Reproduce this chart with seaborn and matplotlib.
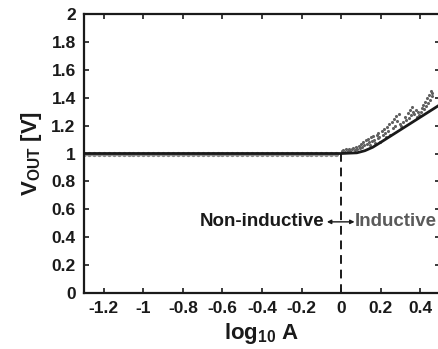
import matplotlib
matplotlib.use("Agg")
import matplotlib.pyplot as plt
import seaborn as sns
import pandas as pd

# ---- data ----
flat_x = [-1.300, -1.275, -1.250, -1.225, -1.200, -1.175, -1.150, -1.125, -1.100,
          -1.075, -1.050, -1.025, -1.000, -0.975, -0.950, -0.925, -0.900, -0.875,
          -0.850, -0.825, -0.800, -0.775, -0.750, -0.725, -0.700, -0.675, -0.650,
          -0.625, -0.600, -0.575, -0.550, -0.525, -0.500, -0.475, -0.450, -0.425,
          -0.400, -0.375, -0.350, -0.325, -0.300, -0.275, -0.250, -0.225, -0.200,
          -0.175, -0.150, -0.125, -0.100, -0.075, -0.050, -0.025]
flat_y = [1.0] * len(flat_x)

ind_x = [0.004, 0.012, 0.018, 0.026, 0.033, 0.041, 0.047, 0.055, 0.062, 0.068,
         0.074, 0.081, 0.088, 0.094, 0.101, 0.107, 0.113, 0.118, 0.124, 0.129,
         0.135, 0.141, 0.146, 0.152, 0.157, 0.163, 0.168, 0.173, 0.179, 0.184,
         0.189, 0.194, 0.199, 0.205, 0.211, 0.216, 0.222, 0.227, 0.233, 0.238,
         0.244, 0.249, 0.255, 0.261, 0.266, 0.272, 0.278, 0.284, 0.291, 0.297,
         0.305, 0.313, 0.321, 0.329, 0.336, 0.342, 0.348, 0.353, 0.359, 0.364,
         0.371, 0.377, 0.383, 0.389, 0.396, 0.403, 0.409, 0.415, 0.421, 0.426,
         0.431, 0.436, 0.441, 0.445, 0.449, 0.454, 0.458, 0.462]
ind_y = [1.015, 1.025, 1.010, 1.030, 1.020, 1.035, 1.015, 1.030, 1.040, 1.025,
         1.045, 1.030, 1.055, 1.040, 1.065, 1.050, 1.085, 1.060, 1.095, 1.070,
         1.105, 1.080, 1.060, 1.115, 1.090, 1.125, 1.100, 1.075, 1.135, 1.110,
         1.150, 1.120, 1.085, 1.160, 1.130, 1.175, 1.145, 1.115, 1.190, 1.160,
         1.210, 1.135, 1.225, 1.180, 1.250, 1.200, 1.270, 1.235, 1.285, 1.215,
         1.195, 1.225, 1.260, 1.240, 1.290, 1.255, 1.310, 1.275, 1.330, 1.300,
         1.285, 1.315, 1.260, 1.295, 1.275, 1.300, 1.325, 1.345, 1.320, 1.370,
         1.340, 1.395, 1.360, 1.420, 1.380, 1.450, 1.410, 1.435]

line_x = [-1.30, 0.00, 0.08, 0.12, 0.16, 0.20, 0.25, 0.30, 0.35, 0.40, 0.45, 0.50]
line_y = [1.00, 1.00, 1.005, 1.02, 1.045, 1.08, 1.125, 1.17, 1.215, 1.26, 1.305, 1.35]

xticks = [-1.2, -1.0, -0.8, -0.6, -0.4, -0.2, 0.0, 0.2, 0.4]
xtick_labels = ["-1.2", "-1", "-0.8", "-0.6", "-0.4", "-0.2", "0", "0.2", "0.4"]
yticks = [0.0, 0.2, 0.4, 0.6, 0.8, 1.0, 1.2, 1.4, 1.6, 1.8, 2.0]
ytick_labels = ["0", "0.2", "0.4", "0.6", "0.8", "1", "1.2", "1.4", "1.6", "1.8", "2"]

# ---- style ----
sns.set_theme(style="ticks")
plt.rcParams["font.family"] = ["Liberation Sans", "DejaVu Sans"]
plt.rcParams["font.weight"] = "bold"
plt.rcParams["mathtext.fontset"] = "custom"
plt.rcParams["mathtext.rm"] = "Liberation Sans:bold"
plt.rcParams["mathtext.bf"] = "Liberation Sans:bold"
plt.rcParams["mathtext.it"] = "Liberation Sans:bold"

fig = plt.figure(figsize=(4.38, 3.49), dpi=100)
ax = fig.add_axes([84 / 438, 1 - 293 / 349, (440 - 84) / 438, (293 - 14) / 349])

df_flat = pd.DataFrame({"x": flat_x, "y": flat_y})
df_ind = pd.DataFrame({"x": ind_x, "y": ind_y})
df_line = pd.DataFrame({"x": line_x, "y": line_y})

sns.scatterplot(data=df_flat, x="x", y="y", ax=ax, s=14, color="#8a8a8a",
                linewidth=0, marker="o", zorder=2)
sns.scatterplot(data=df_ind, x="x", y="y", ax=ax, s=5, color="#606060",
                linewidth=0, marker="o", zorder=2)
sns.lineplot(data=df_line, x="x", y="y", ax=ax, color="#1a1a1a", linewidth=2.0,
             zorder=3, sort=False)

ax.axvline(0.0, ymin=0, ymax=0.5, color="#1a1a1a", linestyle=(0, (4.5, 3)),
           linewidth=1.4, zorder=1)

ax.annotate("", xy=(-0.072, 0.51), xytext=(0.068, 0.51),
            arrowprops=dict(arrowstyle="<|-|>", color="#1a1a1a", lw=1.0,
                            mutation_scale=6, shrinkA=0, shrinkB=0))
ax.text(-0.086, 0.51, "Non-inductive", ha="right", va="center",
        fontsize=13.5, fontweight="bold", color="#1a1a1a")
ax.text(0.071, 0.51, "Inductive", ha="left", va="center",
        fontsize=13.5, fontweight="bold", color="#5a5a5a")

ax.set_xlim(-1.3, 0.5)
ax.set_ylim(0, 2)
ax.set_xticks(xticks)
ax.set_xticklabels(xtick_labels)
ax.set_yticks(yticks)
ax.set_yticklabels(ytick_labels)
ax.tick_params(direction="in", length=3.5, width=1.2, top=True, right=True,
               labelsize=12.5, colors="#1a1a1a", pad=6)
for lab in ax.get_xticklabels() + ax.get_yticklabels():
    lab.set_fontweight("bold")
for sp in ax.spines.values():
    sp.set_visible(True)
    sp.set_linewidth(1.6)
    sp.set_color("#1a1a1a")

ax.set_xlabel(r"log$_{10}$ A", fontsize=16, fontweight="bold", color="#1a1a1a",
              labelpad=3)
ax.set_ylabel(r"V$_{\mathregular{OUT}}$ [V]", fontsize=16, fontweight="bold",
              color="#1a1a1a", labelpad=5)
ax.grid(False)

fig.savefig("out.png", dpi=100)
